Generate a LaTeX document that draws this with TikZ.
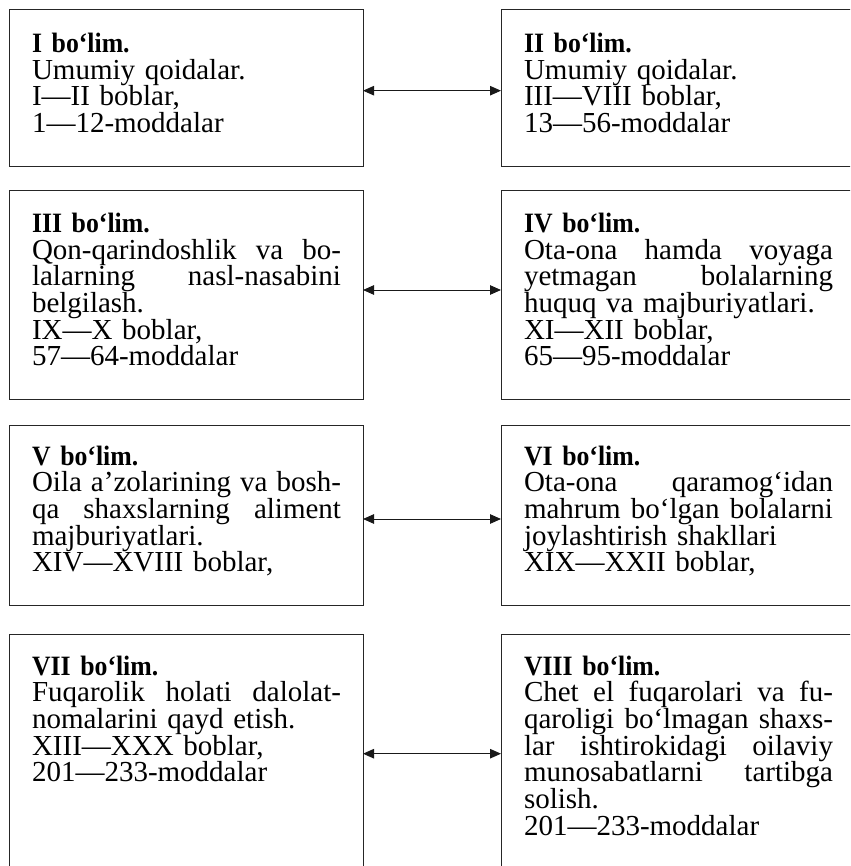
\documentclass[tikz,border=0pt]{standalone}
\usepackage{fontspec}
\setmainfont{Liberation Serif}[BoldFeatures={FakeStretch=0.92}]
\usetikzlibrary{arrows.meta}
\newcommand\JL[1]{\leavevmode\hbox to 309pt{#1}}
\newcommand\FirstStrut{\rule{0pt}{25pt}}
\newcommand\Title[1]{{\fontsize{28}{26.7}\selectfont\bfseries #1}}
\newcommand\BoxFont{\fontsize{29}{26.7}\selectfont\lineskiplimit=-100pt\relax\lineskip=0pt\relax}
\tikzset{
  boxshape/.style={draw=black!85, line width=1pt, rectangle, inner sep=0pt, outer sep=0pt,
    minimum width=354pt, anchor=north west},
  txt/.style={inner sep=0pt, outer sep=0pt, anchor=north west, text width=309pt, align=left,
    font=\BoxFont},
  link/.style={line width=1pt, draw=black!90,
    {Triangle[length=11pt,width=9.5pt]}-{Triangle[length=11pt,width=9.5pt]}}
}
\begin{document}
\begin{tikzpicture}[x=1pt,y=-1pt]
\useasboundingbox (0,0) rectangle (850,866);
\clip (0,0) rectangle (850,866);
% boxes
\node[boxshape, minimum height=157pt] (b1) at (9,10) {};
\node[boxshape, minimum height=157pt] (b2) at (501,10) {};
\node[boxshape, minimum height=208.6pt] (b3) at (9,190.7) {};
\node[boxshape, minimum height=208.6pt] (b4) at (501,190.7) {};
\node[boxshape, minimum height=180pt] (b5) at (9,425) {};
\node[boxshape, minimum height=180pt] (b6) at (501,425) {};
\node[boxshape, minimum height=266pt] (b7) at (9,634.3) {};
\node[boxshape, minimum height=266pt] (b8) at (501,634.3) {};
% texts
\node[txt] (t1) at (32,27.5) {\FirstStrut\Title{I bo‘lim.}\\
Umumiy qoidalar.\\
I—II boblar,\\
1—12-moddalar};
\node[txt] (t2) at (524,27.5) {\FirstStrut\Title{II bo‘lim.}\\
Umumiy qoidalar.\\
III—VIII boblar,\\
13—56-moddalar};
\node[txt] (t3) at (32,207.5) {\FirstStrut\Title{III bo‘lim.}\\
\JL{Qon-qarindoshlik\hfill va\hfill bo-}\\
\JL{lalarning\hfill nasl-nasabini}\\
belgilash.\\
IX—X boblar,\\
57—64-moddalar};
\node[txt] (t4) at (524,207.5) {\FirstStrut\Title{IV bo‘lim.}\\
\JL{Ota-ona\hfill hamda\hfill voyaga}\\
\JL{yetmagan\hfill bolalarning}\\
huquq va majburiyatlari.\\
XI—XII boblar,\\
65—95-moddalar};
\node[txt] (t5) at (32,440) {\FirstStrut\Title{V bo‘lim.}\\
\JL{Oila\hfill a’zolarining\hfill va\hfill bosh-}\\
\JL{qa\hfill shaxslarning\hfill aliment}\\
majburiyatlari.\\
XIV—XVIII boblar,};
\node[txt] (t6) at (524,440) {\FirstStrut\Title{VI bo‘lim.}\\
\JL{Ota-ona\hfill qaramog‘idan}\\
\JL{mahrum\hfill bo‘lgan\hfill bolalarni}\\
joylashtirish shakllari\\
XIX—XXII boblar,};
\node[txt] (t7) at (32,650) {\FirstStrut\Title{VII bo‘lim.}\\
\JL{Fuqarolik\hfill holati\hfill dalolat-}\\
nomalarini qayd etish.\\
XIII—XXX boblar,\\
201—233-moddalar};
\node[txt] (t8) at (524,650) {\FirstStrut\Title{VIII bo‘lim.}\\
\JL{Chet\hfill el\hfill fuqarolari\hfill va\hfill fu-}\\
\JL{qaroligi\hfill bo‘lmagan\hfill shaxs-}\\
\JL{lar\hfill ishtirokidagi\hfill oilaviy}\\
\JL{munosabatlarni\hfill tartibga}\\
solish.\\
201—233-moddalar};
% connectors
\draw[link] (b1.east |- 0,90.7) -- (b2.west |- 0,90.7);
\draw[link] (b3.east |- 0,290) -- (b4.west |- 0,290);
\draw[link] (b5.east |- 0,519) -- (b6.west |- 0,519);
\draw[link] (b7.east |- 0,753.7) -- (b8.west |- 0,753.7);
\end{tikzpicture}
\end{document}
